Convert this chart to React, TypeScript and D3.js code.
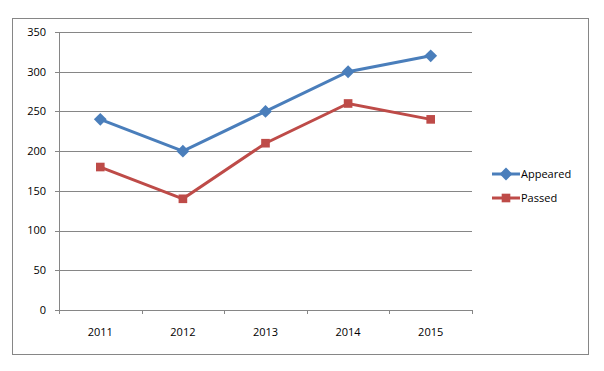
import React, { useEffect, useRef } from "react";
import * as d3 from "d3";

const years = ["2011", "2012", "2013", "2014", "2015"];
const appeared = [240, 200, 250, 300, 320];
const passed = [180, 140, 210, 260, 240];
const yTicks = [0, 50, 100, 150, 200, 250, 300, 350];

const App = () => {
  const ref = useRef<SVGSVGElement>(null);

  useEffect(() => {
    const svg = d3.select(ref.current);
    svg.selectAll("*").remove();

    const font = "'Open Sans', Calibri, sans-serif";
    const gray = "#868686";

    // outer chart border
    svg
      .append("rect")
      .attr("x", 12.5)
      .attr("y", 18.5)
      .attr("width", 576)
      .attr("height", 336)
      .attr("fill", "white")
      .attr("stroke", gray)
      .attr("stroke-width", 1);

    const x = d3.scaleBand().domain(years).range([59, 472]);
    const y = d3.scaleLinear().domain([0, 350]).range([310, 32]);

    const g = svg.append("g");

    // gridlines
    g.selectAll(".grid")
      .data(yTicks)
      .enter()
      .append("line")
      .attr("x1", 55)
      .attr("x2", 472)
      .attr("y1", (d) => Math.round(y(d)) + 0.5)
      .attr("y2", (d) => Math.round(y(d)) + 0.5)
      .attr("stroke", gray)
      .attr("stroke-width", 1);

    // y axis line
    g.append("line")
      .attr("x1", 59.5)
      .attr("x2", 59.5)
      .attr("y1", y(350))
      .attr("y2", y(0))
      .attr("stroke", gray);

    // x ticks
    const xTickPos = years.map((d) => x(d)!).concat([472]);
    g.selectAll(".xtick")
      .data(xTickPos)
      .enter()
      .append("line")
      .attr("x1", (d) => Math.round(d) + 0.5)
      .attr("x2", (d) => Math.round(d) + 0.5)
      .attr("y1", 310)
      .attr("y2", 314)
      .attr("stroke", gray);

    g.selectAll(".ylab")
      .data(yTicks)
      .enter()
      .append("text")
      .attr("x", 46)
      .attr("y", (d) => y(d))
      .attr("dy", "0.35em")
      .attr("text-anchor", "end")
      .attr("font-family", font)
      .attr("font-size", 11)
      .attr("fill", "#000")
      .text((d) => d);

    g.selectAll(".xlab")
      .data(years)
      .enter()
      .append("text")
      .attr("x", (d) => x(d)! + x.bandwidth() / 2)
      .attr("y", 332)
      .attr("dy", "0.35em")
      .attr("text-anchor", "middle")
      .attr("font-family", font)
      .attr("font-size", 11)
      .attr("fill", "#000")
      .text((d) => d);

    const cx = (i: number) => x(years[i])! + x.bandwidth() / 2;
    const line = d3
      .line<number>()
      .x((d, i) => cx(i))
      .y((d) => y(d));

    const series = [
      { name: "Appeared", values: appeared, color: "#4A7EBB", shape: "diamond" },
      { name: "Passed", values: passed, color: "#BE4B48", shape: "square" },
    ];

    const diamond = d3.symbol().type(d3.symbolDiamond2).size(105);
    const square = d3.symbol().type(d3.symbolSquare2).size(95);

    series.forEach((s) => {
      g.append("path")
        .attr("d", line(s.values))
        .attr("fill", "none")
        .attr("stroke", s.color)
        .attr("stroke-width", 3);

      g.selectAll(".m-" + s.name)
        .data(s.values)
        .enter()
        .append("path")
        .attr("transform", (d, i) => `translate(${cx(i)},${y(d)})`)
        .attr("d", s.shape === "diamond" ? diamond() : square())
        .attr("fill", s.color)
        .attr("stroke", "none");
    });

    // legend
    const legend = svg.append("g");
    series.forEach((s, i) => {
      const ly = 174 + i * 24;
      legend
        .append("line")
        .attr("x1", 492)
        .attr("x2", 520)
        .attr("y1", ly)
        .attr("y2", ly)
        .attr("stroke", s.color)
        .attr("stroke-width", 3);
      legend
        .append("path")
        .attr("transform", `translate(506,${ly})`)
        .attr("d", s.shape === "diamond" ? diamond() : square())
        .attr("fill", s.color);
      legend
        .append("text")
        .attr("x", 521)
        .attr("y", ly)
        .attr("dy", "0.35em")
        .attr("font-family", font)
        .attr("font-size", 11)
        .attr("fill", "#000")
        .text(s.name);
    });
  }, []);

  return (
    <svg
      ref={ref}
      width={604}
      height={371}
      style={{ position: "absolute", left: 0, top: 0 }}
    />
  );
};

export default App;
